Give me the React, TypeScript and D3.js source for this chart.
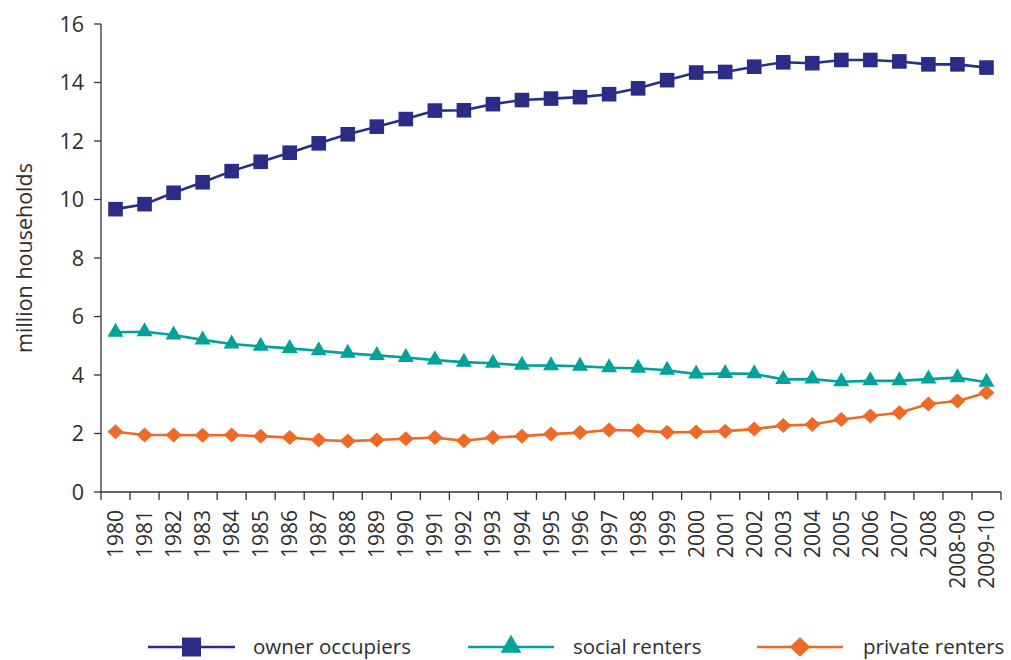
import React from "react"
import * as d3 from "d3"

const years = [
  "1980", "1981", "1982", "1983", "1984", "1985", "1986", "1987", "1988", "1989",
  "1990", "1991", "1992", "1993", "1994", "1995", "1996", "1997", "1998", "1999",
  "2000", "2001", "2002", "2003", "2004", "2005", "2006", "2007", "2008", "2008-09", "2009-10",
]

const ownerOccupiers = [
  9.67, 9.84, 10.23, 10.59, 10.97, 11.29, 11.6, 11.92, 12.23, 12.49,
  12.75, 13.04, 13.05, 13.26, 13.4, 13.45, 13.5, 13.6, 13.8, 14.08,
  14.34, 14.36, 14.54, 14.69, 14.66, 14.77, 14.77, 14.72, 14.62, 14.62, 14.51,
]

const socialRenters = [
  5.46, 5.48, 5.37, 5.2, 5.06, 4.98, 4.91, 4.83, 4.74, 4.67,
  4.6, 4.51, 4.44, 4.4, 4.33, 4.32, 4.3, 4.25, 4.23, 4.16,
  4.03, 4.05, 4.04, 3.85, 3.86, 3.77, 3.8, 3.8, 3.86, 3.91, 3.75,
]

const privateRenters = [
  2.06, 1.95, 1.95, 1.94, 1.95, 1.91, 1.86, 1.78, 1.74, 1.78,
  1.82, 1.86, 1.75, 1.86, 1.91, 1.98, 2.03, 2.12, 2.1, 2.04,
  2.05, 2.08, 2.15, 2.27, 2.31, 2.48, 2.6, 2.71, 3.01, 3.11, 3.39,
]

const yTicks = [0, 2, 4, 6, 8, 10, 12, 14, 16]

const seriesNames = ["owner occupiers", "social renters", "private renters"]

const W = 1011
const H = 660
const margin = { top: 24, right: 1, bottom: 168, left: 101 }
const font = "'Open Sans', 'DejaVu Sans', sans-serif"
const textColor = "#2e2e2e"

const series = [
  { name: seriesNames[0], values: ownerOccupiers, color: "#2a2d86", shape: "square" },
  { name: seriesNames[1], values: socialRenters, color: "#00a29a", shape: "triangle" },
  { name: seriesNames[2], values: privateRenters, color: "#ef6a25", shape: "diamond" },
]

// s = scale factor (legend markers are drawn larger than the plot ones)
function Marker({ shape, x, y, color, s = 1 }: { shape: string; x: number; y: number; color: string; s?: number }) {
  if (shape === "square") {
    const h = 7.3 * s
    return <rect x={x - h} y={y - h} width={h * 2} height={h * 2} fill={color} />
  }
  if (shape === "triangle") {
    return (
      <path
        d={`M${x},${y - 9.5 * s} L${x + 8 * s},${y + 4.5 * s} L${x - 8 * s},${y + 4.5 * s} Z`}
        fill={color}
      />
    )
  }
  return (
    <path
      d={`M${x},${y - 7.5 * s} L${x + 8 * s},${y} L${x},${y + 7.5 * s} L${x - 8 * s},${y} Z`}
      fill={color}
    />
  )
}

export default function App() {
  const x = d3
    .scaleBand<string>()
    .domain(years)
    .range([margin.left, W - margin.right - 9])
    .padding(0)

  const y = d3
    .scaleLinear()
    .domain([0, 16])
    .range([H - margin.bottom, margin.top])

  const cx = (d: string) => x(d)! + x.bandwidth() / 2

  const line = d3
    .line<number>()
    .x((_, i) => cx(years[i]))
    .y((d) => y(d))

  const y0 = y(0)
  const boundaries = years.map((d) => x(d)!).concat([x(years[years.length - 1])! + x.bandwidth()])

  const legendItems = [
    { x1: 148, x2: 235, tx: 253 },
    { x1: 468, x2: 554, tx: 573 },
    { x1: 757, x2: 843, tx: 863 },
  ]

  return (
    <svg
      width={W}
      height={H}
      style={{ position: "absolute", left: 0, top: 0, background: "#fff" }}
      fontFamily={font}
    >
      {/* y axis */}
      <line x1={margin.left} x2={margin.left} y1={y(16)} y2={y0} stroke="#333" strokeWidth={1.3} />
      {yTicks.map((t) => (
        <g key={t}>
          <line x1={margin.left - 7} x2={margin.left} y1={y(t)} y2={y(t)} stroke="#333" strokeWidth={1.3} />
          <text
            x={margin.left - 17}
            y={y(t)}
            dy="0.36em"
            textAnchor="end"
            fontSize={21.5}
            fill={textColor}
          >
            {t}
          </text>
        </g>
      ))}
      <text
        transform={`translate(32,${(y(16) + y0) / 2}) rotate(-90)`}
        textAnchor="middle"
        fontSize={21.5}
        fill={textColor}
      >
        million households
      </text>

      {/* x axis */}
      <line x1={margin.left} x2={boundaries[boundaries.length - 1]} y1={y0} y2={y0} stroke="#333" strokeWidth={1.3} />
      {boundaries.map((b, i) => (
        <line key={i} x1={b} x2={b} y1={y0} y2={y0 + 8} stroke="#333" strokeWidth={1.3} />
      ))}
      {years.map((d) => (
        <text
          key={d}
          transform={`translate(${cx(d)},${y0 + 18}) rotate(-90)`}
          textAnchor="end"
          dy="0.36em"
          fontSize={21}
          fill={textColor}
        >
          {d}
        </text>
      ))}

      {/* series */}
      {series.map((s) => (
        <g key={s.name}>
          <path d={line(s.values) || ""} fill="none" stroke={s.color} strokeWidth={2.6} />
          {s.values.map((v, i) => (
            <Marker key={i} shape={s.shape} x={cx(years[i])} y={y(v)} color={s.color} />
          ))}
        </g>
      ))}

      {/* legend */}
      {series.map((s, i) => {
        const it = legendItems[i]
        const ly = 647
        return (
          <g key={s.name}>
            <line x1={it.x1} x2={it.x2} y1={ly} y2={ly} stroke={s.color} strokeWidth={2.6} />
            <Marker shape={s.shape} x={(it.x1 + it.x2) / 2} y={ly} color={s.color} s={1.3} />
            <text x={it.tx} y={ly} dy="0.36em" fontSize={20.5} fill={textColor}>
              {s.name}
            </text>
          </g>
        )
      })}
    </svg>
  )
}
